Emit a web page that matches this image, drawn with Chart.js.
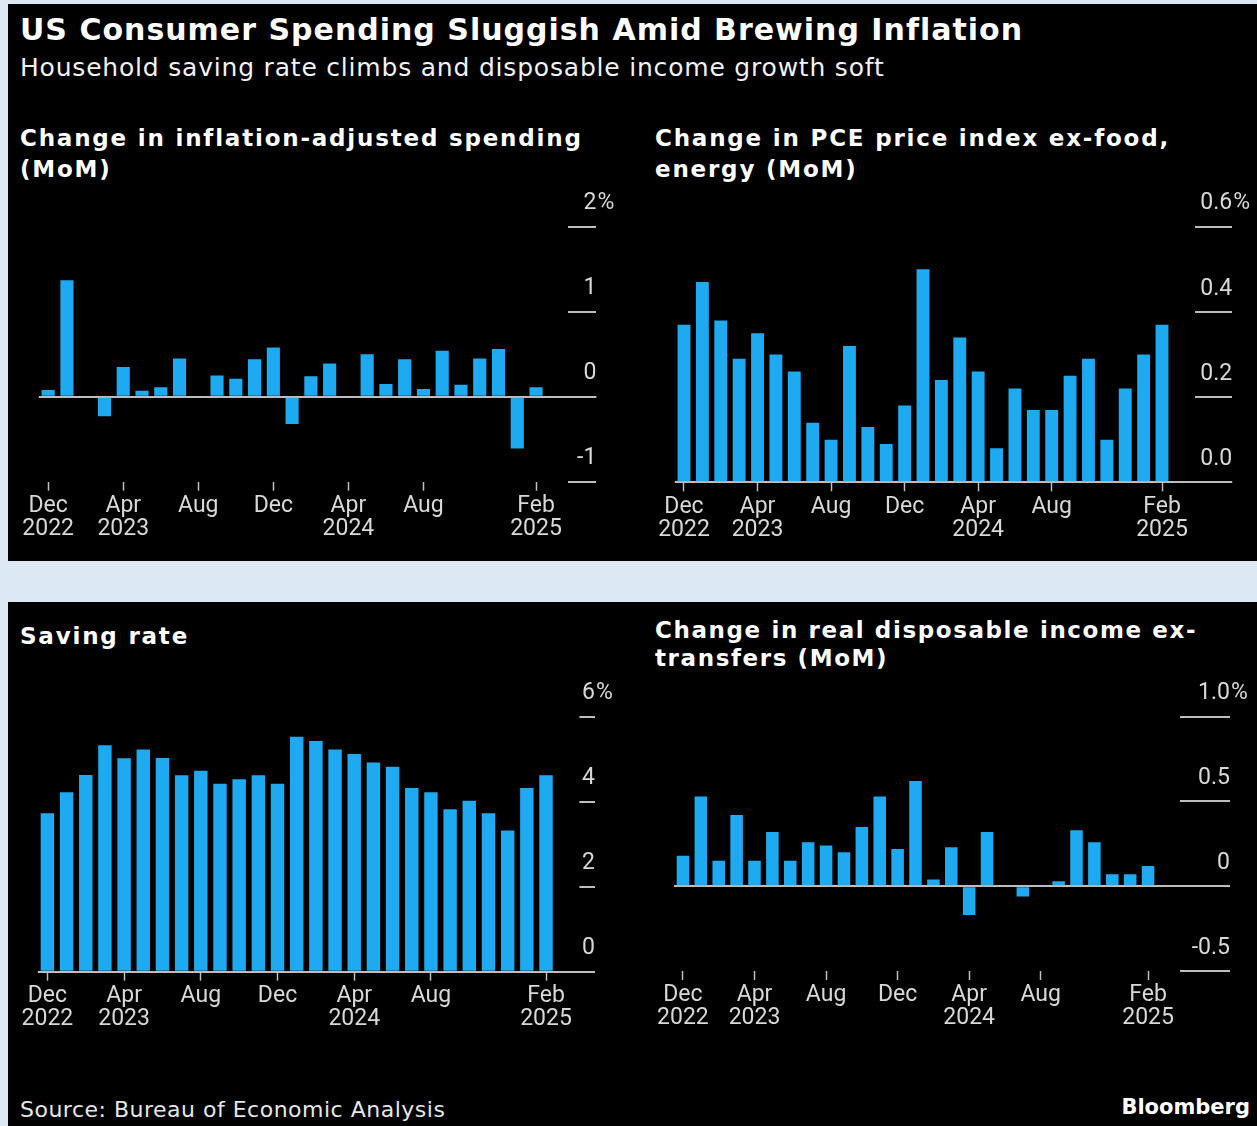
<!DOCTYPE html>
<html>
<head>
<meta charset="utf-8">
<title>US Consumer Spending Sluggish Amid Brewing Inflation</title>
<script src="https://cdn.jsdelivr.net/npm/chart.js@4.4.0/dist/chart.umd.min.js"></script>
<style>
  body { margin: 0; width: 1257px; height: 1126px; background: #dce9f5; position: relative; overflow: hidden; }
  .panel { position: absolute; background: #000; }
  .txt { position: absolute; color: #fff; font-family: "DejaVu Sans", sans-serif; white-space: nowrap; }
  .title { left: 20px; top: 12px; font-size: 30px; line-height: 36px; font-weight: bold; letter-spacing: 1px; }
  .sub { left: 20px; top: 53px; font-size: 25px; line-height: 30px; letter-spacing: 0.8px; color: #f2f2f2; }
  .head { font-size: 23px; line-height: 31px; font-weight: bold; letter-spacing: 1.8px; }
  .src { left: 20px; top: 1096px; font-size: 22px; line-height: 28px; letter-spacing: 0.5px; color: #e6e6e6; }
  .brand { right: 7px; top: 1093px; font-size: 21px; line-height: 28px; font-weight: bold; }
  .box { position: absolute; width: 628px; height: 375px; }
</style>
</head>
<body>
<div class="panel" style="left:8px;top:4px;width:1249px;height:557px;"></div>
<div class="panel" style="left:8px;top:602px;width:1249px;height:524px;"></div>

<div class="txt title">US Consumer Spending Sluggish Amid Brewing Inflation</div>
<div class="txt sub">Household saving rate climbs and disposable income growth soft</div>
<div class="txt head" style="left:20px;top:123px;">Change in inflation-adjusted spending<br>(MoM)</div>
<div class="txt head" style="left:655px;top:123px;">Change in PCE price index ex-food,<br>energy (MoM)</div>
<div class="txt head" style="left:20px;top:621px;">Saving rate</div>
<div class="txt head" style="left:655px;top:616px;line-height:28px;letter-spacing:1.6px;">Change in real disposable income ex-<br>transfers (MoM)</div>
<div class="txt src">Source: Bureau of Economic Analysis</div>
<div class="txt brand">Bloomberg</div>

<div class="box" style="left:0;top:185px;"><canvas id="spendChart"></canvas></div>
<div class="box" style="left:628px;top:185px;width:629px;"><canvas id="pceChart"></canvas></div>
<div class="box" style="left:0;top:680px;"><canvas id="savingChart"></canvas></div>
<div class="box" style="left:628px;top:680px;width:629px;"><canvas id="incomeChart"></canvas></div>

<script>
// ===== Data (monthly, Dec 2022 - Feb 2025) =====
const months = [
  "Dec 2022", "Jan 2023", "Feb 2023", "Mar 2023", "Apr 2023", "May 2023", "Jun 2023",
  "Jul 2023", "Aug 2023", "Sep 2023", "Oct 2023", "Nov 2023", "Dec 2023", "Jan 2024",
  "Feb 2024", "Mar 2024", "Apr 2024", "May 2024", "Jun 2024", "Jul 2024", "Aug 2024",
  "Sep 2024", "Oct 2024", "Nov 2024", "Dec 2024", "Jan 2025", "Feb 2025"
];

// Change in inflation-adjusted spending (MoM, %)
const realSpending = [0.08, 1.37, 0.0, -0.23, 0.35, 0.07, 0.11, 0.45, 0.01, 0.25, 0.21, 0.44, 0.58,
  -0.32, 0.24, 0.39, 0.0, 0.5, 0.15, 0.44, 0.09, 0.54, 0.14, 0.45, 0.56, -0.61, 0.11];

// Change in PCE price index ex-food, energy (MoM, %)
const corePce = [0.37, 0.47, 0.38, 0.29, 0.35, 0.3, 0.26, 0.14, 0.1, 0.32, 0.13, 0.09, 0.18,
  0.5, 0.24, 0.34, 0.26, 0.08, 0.22, 0.17, 0.17, 0.25, 0.29, 0.1, 0.22, 0.3, 0.37];

// Saving rate (%)
const savingRate = [3.73, 4.22, 4.63, 5.33, 5.02, 5.23, 5.03, 4.62, 4.73, 4.42, 4.53, 4.62, 4.42,
  5.53, 5.43, 5.23, 5.12, 4.92, 4.82, 4.32, 4.22, 3.82, 4.02, 3.73, 3.32, 4.32, 4.62];

// Change in real disposable income ex-transfers (MoM, %)
const realIncome = [0.18, 0.53, 0.15, 0.42, 0.15, 0.32, 0.15, 0.26, 0.24, 0.2, 0.35, 0.53, 0.22,
  0.62, 0.04, 0.23, -0.17, 0.32, 0.0, -0.06, 0.0, 0.03, 0.33, 0.26, 0.07, 0.07, 0.12];

// x-axis tick labels and where they sit
const xTickAt = [0, 4, 8, 12, 16, 20, 26];
const xTickLabels = [["Dec", "2022"], ["Apr", "2023"], ["Aug"], ["Dec"], ["Apr", "2024"], ["Aug"], ["Feb", "2025"]];

// y-axis ticks and labels
const spendTicks = [-1, 0, 1, 2];
const spendLabels = ["-1", "0", "1", "2"];
const pceTicks = [0, 0.2, 0.4, 0.6];
const pceLabels = ["0.0", "0.2", "0.4", "0.6"];
const savingTicks = [0, 2, 4, 6];
const savingLabels = ["0", "2", "4", "6"];
const incomeTicks = [-0.5, 0, 0.5, 1.0];
const incomeLabels = ["-0.5", "0", "0.5", "1.0"];

// ===== Styles =====
const BAR = "#1eaaf0";
const LINE = "#bdbdbd";
const TXT = "#d8d8d8";
const LABEL_FONT = { family: "Roboto", size: 23, lineHeight: 1 };
const Y_LABEL_SHIFT = -23;

// draws the % sign after the top y label
const pctSign = {
  id: "pctSign",
  afterDraw(chart) {
    const s = chart.scales.y;
    const top = s.ticks[s.ticks.length - 1];
    const ctx = chart.ctx;
    ctx.save();
    ctx.font = LABEL_FONT.size + "px " + LABEL_FONT.family;
    ctx.fillStyle = TXT;
    ctx.textAlign = "left";
    ctx.textBaseline = "middle";
    ctx.fillText("%", s.right + 1, s.getPixelForValue(top.value) + Y_LABEL_SHIFT);
    ctx.restore();
  }
};

function xLabel(i) {
  const k = xTickAt.indexOf(i);
  return k < 0 ? "" : xTickLabels[k];
}

function barPanel(id, values, yTicks, yLabels, gap, dash, pad) {
  new Chart(document.getElementById(id), {
    type: "bar",
    data: {
      labels: months,
      datasets: [{
        data: values,
        backgroundColor: BAR,
        barPercentage: 1,
        categoryPercentage: 0.7,
      }],
    },
    options: {
      responsive: true,
      maintainAspectRatio: false,
      animation: false,
      layout: { padding: pad },
      plugins: { legend: { display: false }, tooltip: { enabled: false } },
      scales: {
        x: {
          offset: true,
          border: { display: false },
          grid: {
            offset: false,
            drawOnChartArea: false,
            tickLength: 9,
            tickWidth: 1.5,
            tickColor: ctx => (xLabel(ctx.index) ? LINE : "transparent"),
          },
          ticks: {
            autoSkip: false,
            maxRotation: 0,
            minRotation: 0,
            padding: 4,
            color: TXT,
            font: LABEL_FONT,
            callback: (v, i) => xLabel(i),
          },
          afterFit: s => { s.height = 59; },
        },
        y: {
          position: "right",
          min: yTicks[0],
          max: yTicks[yTicks.length - 1],
          afterBuildTicks: s => { s.ticks = yTicks.map(v => ({ value: v })); },
          border: { display: false },
          grid: {
            color: ctx => (ctx.tick && ctx.tick.value === 0 ? LINE : "transparent"),
            lineWidth: 2,
            tickLength: gap + dash,
            tickWidth: 2,
            tickColor: LINE,
            tickBorderDash: ctx => (ctx.tick && ctx.tick.value === 0 ? [] : [0, gap, dash, 3000]),
          },
          ticks: {
            mirror: true,
            crossAlign: "near",
            padding: gap + dash,
            labelOffset: Y_LABEL_SHIFT,
            color: TXT,
            font: LABEL_FONT,
            callback: (v, i) => yLabels[i],
          },
          // labels sit inside the axis box, so no extra room above/below the plot
          afterFit: s => {
            s.width = gap + dash;
            s.paddingTop = 0;
            s.paddingBottom = 0;
          },
        },
      },
    },
    plugins: [pctSign],
  });
}

barPanel("spendChart", realSpending, spendTicks, spendLabels, 23, 28,
  { left: 38.8, right: 31.6, top: 41.7, bottom: 19.3 });
barPanel("pceChart", corePce, pceTicks, pceLabels, 24, 37,
  { left: 46.8, right: 24.8, top: 41.7, bottom: 18.7 });
barPanel("savingChart", savingRate, savingTicks, savingLabels, 23.4, 16,
  { left: 37.8, right: 33, top: 36.7, bottom: 24.3 });
barPanel("incomeChart", realIncome, incomeTicks, incomeLabels, 23, 50,
  { left: 46, right: 27, top: 36.7, bottom: 25 });
</script>
</body>
</html>
